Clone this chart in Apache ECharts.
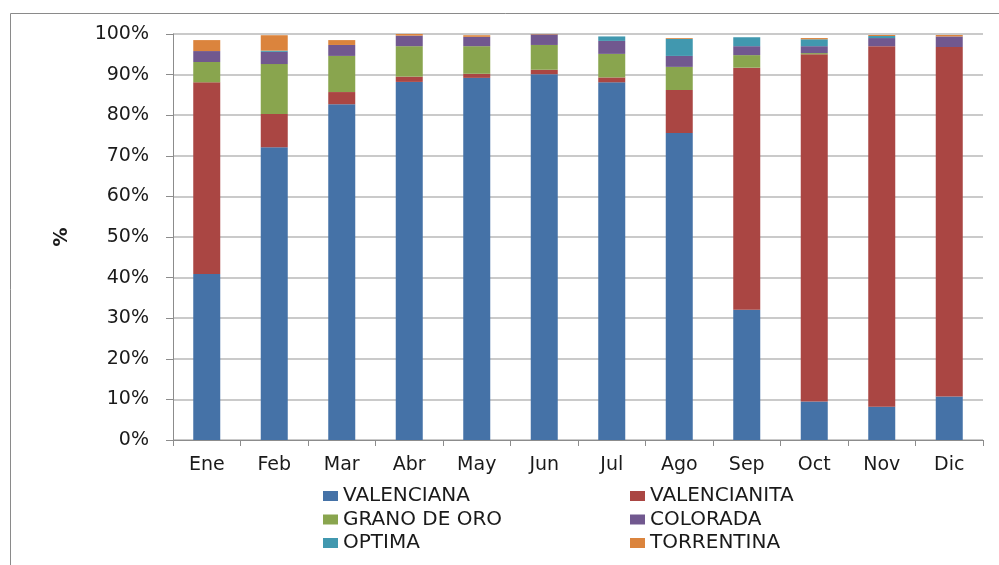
<!DOCTYPE html>
<html>
<head>
<meta charset="utf-8">
<script src="https://cdn.jsdelivr.net/npm/echarts@6/dist/echarts.min.js"></script>
<style>
html,body{margin:0;padding:0;background:#fff;}
#c{width:999px;height:565px;}
</style>
</head>
<body>
<div id="c"></div>
<script>
var categories = ['Ene','Feb','Mar','Abr','May','Jun','Jul','Ago','Sep','Oct','Nov','Dic'];
var valenciana   = [40.9, 72.1, 82.7, 88.2, 89.2, 90.1, 88.1, 75.6, 32.1, 9.5, 8.2, 10.7];
var valencianita = [47.2, 8.2, 3.0, 1.3, 1.0, 1.1, 1.2, 10.6, 59.6, 85.5, 88.8, 86.1];
var granoDeOro   = [5.0, 12.3, 8.9, 7.5, 6.8, 6.1, 5.8, 5.7, 3.1, 0.3, 0, 0];
var colorada     = [2.7, 3.0, 2.7, 2.6, 2.3, 2.6, 3.2, 2.7, 2.2, 1.7, 2.0, 2.6];
var optima       = [0, 0.3, 0, 0, 0, 0, 1.1, 4.2, 2.2, 1.7, 0.5, 0];
var torrentina   = [2.7, 3.8, 1.2, 0.4, 0.4, 0.2, 0, 0.2, 0, 0.3, 0.25, 0.35];
var seriesNames = ['VALENCIANA','VALENCIANITA','GRANO DE ORO','COLORADA','OPTIMA','TORRENTINA'];
var seriesData = [valenciana, valencianita, granoDeOro, colorada, optima, torrentina];
var colors = ['#4572A7','#AA4643','#89A54E','#71588F','#4198AF','#DB843D'];
var yTicks = [0,10,20,30,40,50,60,70,80,90,100];

var FONT = 'DejaVu Sans';
var chart = echarts.init(document.getElementById('c'), null, {renderer:'canvas'});
var legendText = {fontFamily: FONT, fontSize: 20, color: '#1a1a1a', lineHeight: 20};
var option = {
  animation: false,
  color: colors,
  graphic: [{
    type: 'rect', left: 8, top: 11,
    shape: {width: 1200, height: 800},
    style: {fill: 'none', stroke: '#8a8a8a', lineWidth: 1},
    silent: true
  }],
  grid: {left: 173, right: 16, top: 34, bottom: 125, containLabel: false},
  legend: [
    {data: [seriesNames[0], seriesNames[2], seriesNames[4]], orient: 'vertical', left: 318, top: 481,
     itemWidth: 15, itemHeight: 10, itemGap: 3.5, icon: 'rect', textStyle: legendText},
    {data: [seriesNames[1], seriesNames[3], seriesNames[5]], orient: 'vertical', left: 625, top: 481,
     itemWidth: 15, itemHeight: 10, itemGap: 3.5, icon: 'rect', textStyle: legendText}
  ],
  xAxis: {
    type: 'category', data: categories, boundaryGap: true,
    axisLine: {lineStyle: {color: '#8c8c8c', width: 1}},
    axisTick: {show: true, length: 6, lineStyle: {color: '#8c8c8c'}},
    axisLabel: {fontFamily: FONT, fontSize: 19, color: '#1a1a1a', margin: 16}
  },
  yAxis: {
    type: 'value', min: 0, max: 100, interval: 10,
    name: '%', nameLocation: 'middle', nameGap: 101,
    nameTextStyle: {fontFamily: FONT, fontSize: 19, fontWeight: 'bold', color: '#1a1a1a'},
    axisLine: {show: true, lineStyle: {color: '#8c8c8c', width: 1}},
    axisTick: {show: true, length: 7, inside: false, lineStyle: {color: '#8c8c8c'}},
    splitLine: {show: true, lineStyle: {color: '#b8b8b8', width: 1.5}},
    axisLabel: {fontFamily: FONT, fontSize: 19, color: '#1a1a1a', margin: 24,
      formatter: function (v) { return yTicks.indexOf(v) >= 0 ? v + '%' : ''; }}
  },
  series: seriesNames.map(function (n, i) {
    return {
      name: n, type: 'bar', stack: 'total', data: seriesData[i],
      barWidth: 27,
      itemStyle: {color: colors[i]}
    };
  })
};
chart.setOption(option);
</script>
</body>
</html>
